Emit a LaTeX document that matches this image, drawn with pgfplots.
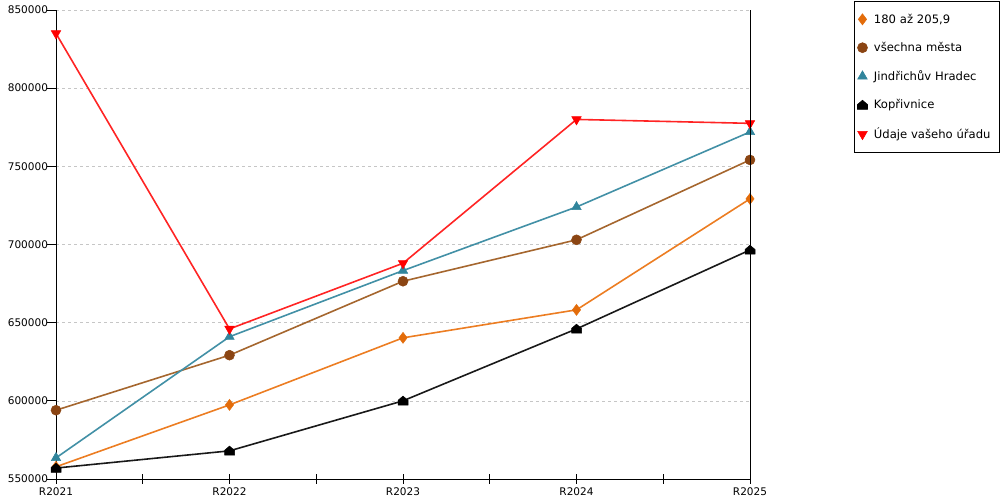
\documentclass[border=0pt]{standalone}
\usepackage{fontspec}
\setmainfont{DejaVu Sans}
\usepackage{pgfplots}
\pgfplotsset{compat=1.18}
\usetikzlibrary{plotmarks}
\definecolor{cOr}{HTML}{EC7D22}
\definecolor{cOrM}{HTML}{E36C0A}
\definecolor{cBr}{HTML}{A5662E}
\definecolor{cBrM}{HTML}{8B4513}
\definecolor{cTe}{HTML}{4290A6}
\definecolor{cTeM}{HTML}{31859C}
\definecolor{cRe}{HTML}{FF2424}
\definecolor{cReM}{HTML}{FF0000}
\pgfdeclareplotmark{house*}{%
  \pgfpathmoveto{\pgfqpoint{-\pgfplotmarksize}{-0.85\pgfplotmarksize}}%
  \pgfpathlineto{\pgfqpoint{\pgfplotmarksize}{-0.85\pgfplotmarksize}}%
  \pgfpathlineto{\pgfqpoint{\pgfplotmarksize}{0.1\pgfplotmarksize}}%
  \pgfpathlineto{\pgfqpoint{0pt}{0.95\pgfplotmarksize}}%
  \pgfpathlineto{\pgfqpoint{-\pgfplotmarksize}{0.1\pgfplotmarksize}}%
  \pgfpathclose
  \pgfusepathqfillstroke}
\begin{document}
\begin{tikzpicture}[x=1pt,y=1pt]
\useasboundingbox (0,0) rectangle (1000,500);
\begin{axis}[
  at={(56pt,21pt)}, anchor=origin,
  scale only axis, width=694pt, height=469pt,
  xmin=0, xmax=4, ymin=550000, ymax=850000,
  axis x line*=bottom, axis y line*=left,
  axis line style={black, line width=0.9pt},
  xtick={0,1,2,3,4},
  xticklabels={R2021,R2022,R2023,R2024,R2025},
  minor xtick={0.5,1.5,2.5,3.5},
  ytick={550000,600000,650000,700000,750000,800000,850000},
  scaled y ticks=false,
  yticklabel style={/pgf/number format/fixed, /pgf/number format/precision=0, /pgf/number format/1000 sep={}, /pgf/number format/assume math mode=true},
  tick align=center,
  major tick length=9pt, minor tick length=9pt,
  xtick style={black, line width=0.9pt},
  minor x tick style={black, line width=0.9pt},
  ytick style={black, line width=0.9pt, xshift=-4.5pt},
  ticklabel style={font=\fontsize{10.5}{12}\selectfont, text=black},
  xticklabel style={yshift=-1pt},
  ymajorgrids,
  major grid style={gray!45, line width=0.6pt, dash pattern=on 3pt off 3pt},
  clip=false,
  legend style={at={(1.1499,1.0192)}, anchor=north west, draw=black, line width=0.9pt,
    font=\fontsize{11.6}{13}\selectfont, row sep=13.6pt, inner xsep=3pt, inner ysep=10.5pt,
    text width=121pt},
  legend cell align=left,
  legend image code/.code={\draw[#1, line width=0.6pt] plot coordinates {(3pt,0pt)}; \path (12pt,0pt);},
  after end axis/.code={\draw[black, line width=0.9pt] (rel axis cs:1,0) -- (rel axis cs:1,1);},
]
\addplot[cOr, line width=1.6pt, mark=diamond*, mark size=5.5pt, mark options={fill=cOrM, draw=cOrM, line width=0.5pt}, forget plot]
  coordinates {(0,557800) (1,597400) (2,640300) (3,658200) (4,729200)};
\addplot[cBr, line width=1.6pt, mark=*, mark size=5pt, mark options={fill=cBrM, draw=cBrM, line width=0.5pt}, forget plot]
  coordinates {(0,594000) (1,629200) (2,676500) (3,703000) (4,754100)};
\addplot[cTe, line width=1.6pt, mark=triangle*, mark size=5.5pt, mark options={fill=cTeM, draw=cTeM, line width=0.5pt}, forget plot]
  coordinates {(0,563500) (1,641000) (2,683300) (3,724000) (4,772000)};
\addplot[black!90, line width=1.6pt, mark=house*, mark size=5pt, mark options={fill=black, draw=black, line width=0.5pt}, forget plot]
  coordinates {(0,557000) (1,568000) (2,600000) (3,646000) (4,696500)};
\addplot[cRe, line width=1.6pt, mark=triangle*, mark size=5.5pt, mark options={fill=cReM, draw=cReM, rotate=180, line width=0.5pt}, forget plot]
  coordinates {(0,835000) (1,646000) (2,688000) (3,780000) (4,777500)};
\addlegendimage{only marks, mark=diamond*, mark size=5.5pt, mark options={fill=cOrM, draw=cOrM}}
\addlegendentry{180 až 205,9}
\addlegendimage{only marks, mark=*, mark size=5pt, mark options={fill=cBrM, draw=cBrM}}
\addlegendentry{všechna města}
\addlegendimage{only marks, mark=triangle*, mark size=5.5pt, mark options={fill=cTeM, draw=cTeM}}
\addlegendentry{Jindřichův Hradec}
\addlegendimage{only marks, mark=house*, mark size=5pt, mark options={fill=black, draw=black}}
\addlegendentry{Kopřivnice}
\addlegendimage{only marks, mark=triangle*, mark size=5.5pt, mark options={fill=cReM, draw=cReM, rotate=180}}
\addlegendentry{Údaje vašeho úřadu}
\end{axis}
\end{tikzpicture}
\end{document}
